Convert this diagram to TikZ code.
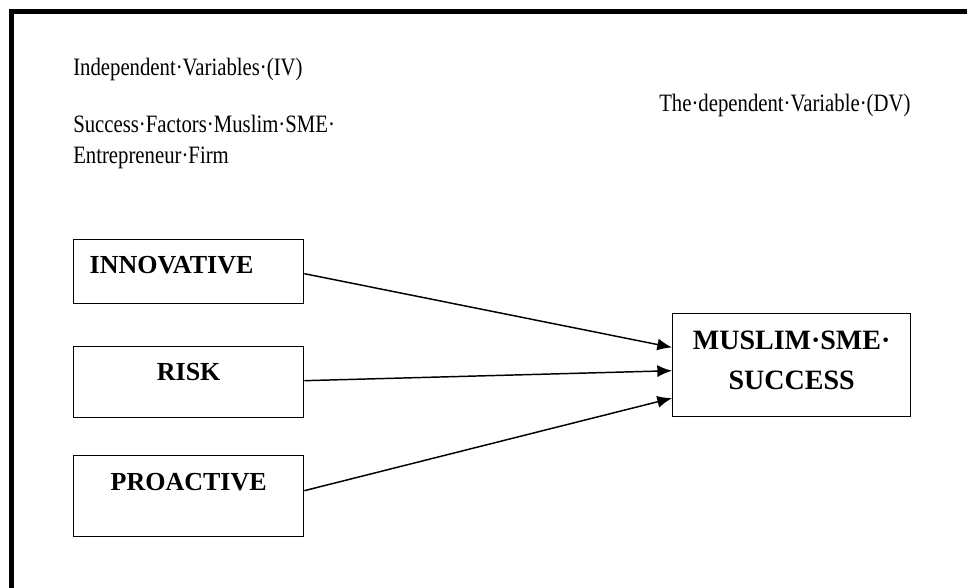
\documentclass[tikz,border=0pt]{standalone}
\usepackage{fontspec}
\setmainfont{Liberation Serif}
\newfontfamily\narrowserif[FakeStretch=0.83]{Liberation Serif}
\usetikzlibrary{arrows.meta,calc}
\tikzset{%
  frame/.style={line width=3.75pt},
  note/.style={font=\narrowserif\fontsize{18.75}{23}\selectfont, inner sep=0pt},
  ivbox/.style={draw, line width=1pt, inner ysep=0pt, inner xsep=12pt,
    text width=148.5pt, anchor=north west,
    font=\bfseries\fontsize{19.5}{23}\selectfont},
  dvbox/.style={draw, line width=1pt, inner sep=0pt, anchor=north west,
    minimum width=178.5pt, minimum height=77.25pt, align=center,
    font=\bfseries\fontsize{21}{30}\selectfont},
  link/.style={line width=1.1pt, -{Latex[length=11pt,width=9pt]}}
}

\begin{document}
\begin{tikzpicture}[x=0.75pt, y=-0.75pt]
  \useasboundingbox (0,0) rectangle (967,587);
  \draw [frame] (11,600) -- (11,11) -- (980,11);

  % headings
  \node [note, anchor=base west] (ivhead) at (73,75) {Independent·Variables·(IV)};
  \node [note, anchor=base west] (sfline1) at (73,132) {Success·Factors·Muslim·SME·};
  \node [note, anchor=base west] (sfline2) at (73,163) {Entrepreneur·Firm};
  \node [note, anchor=base west] (dvhead) at (659,111) {The·dependent·Variable·(DV)};

  % variables
  \node [ivbox, align=left, text height=25.5pt, text depth=22.5pt] (inno) at (73,239) {INNOVATIVE};
  \node [ivbox, align=center, text height=25.5pt, text depth=27.75pt] (risk) at (73,346) {RISK};
  \node [ivbox, align=center, text height=26.25pt, text depth=34.5pt] (pro) at (73,455) {PROACTIVE};
  \node [dvbox] (dv) at (672,313) {MUSLIM·SME·\\SUCCESS\rule[-7.5pt]{0pt}{7.5pt}};

  \draw [link] (inno.base east) -- ($(dv.north west)!0.33!(dv.south west)$);
  \draw [link] (risk.base east) -- ($(dv.north west)!0.553!(dv.south west)$);
  \draw [link] (pro.base east) -- ($(dv.north west)!0.816!(dv.south west)$);
\end{tikzpicture}
\end{document}
